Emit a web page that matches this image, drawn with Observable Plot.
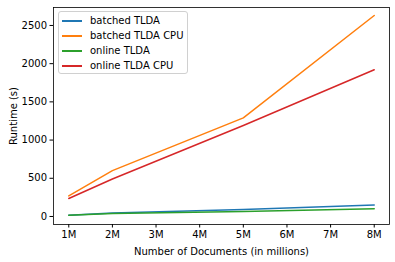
<!DOCTYPE html>
<html><head><meta charset="utf-8">
<script src="https://cdn.jsdelivr.net/npm/d3@7"></script>
<script src="https://cdn.jsdelivr.net/npm/@observablehq/plot@0.6"></script>
<style>
body{margin:0;background:#fff;font-family:"DejaVu Sans",sans-serif;}
#wrap{position:relative;width:395px;height:262px;}
#legend{position:absolute;left:58px;top:11px;width:130px;height:63px;border:1px solid #d0d0d0;border-radius:3px;background:rgba(255,255,255,0.8);font-size:10px;color:#000;box-sizing:border-box;}
.row{position:absolute;left:0;height:14px;}
.sw{position:absolute;left:3px;top:6px;width:20px;height:2px;}
.lb{position:absolute;left:31px;top:0;white-space:nowrap;line-height:14px;}
</style></head>
<body><div id="wrap"></div>
<script>
const docs = [1, 2, 5, 8];
const tickLabels = ["1M","2M","3M","4M","5M","6M","7M","8M"];
const seriesNames = ["batched TLDA", "batched TLDA CPU", "online TLDA", "online TLDA CPU"];
const batched = [15, 45, 90, 150];
const batchedCPU = [270, 600, 1290, 2630];
const online = [15, 40, 65, 100];
const onlineCPU = [235, 490, 1190, 1920];
const colors = ["#1f77b4", "#ff7f0e", "#2ca02c", "#d62728"];

const allSeries = [batched, batchedCPU, online, onlineCPU];
const rows = [];
allSeries.forEach((s, i) => s.forEach((v, j) => rows.push({series: seriesNames[i], x: docs[j], y: v})));

const chart = Plot.plot({
  width: 395, height: 262,
  marginLeft: 53, marginRight: 6, marginTop: 7, marginBottom: 38,
  style: {fontFamily: "DejaVu Sans", fontSize: "10px", color: "#000", background: "#fff", overflow: "visible"},
  x: {domain: [0.65, 8.35]},
  y: {domain: [-105, 2735]},
  color: {domain: seriesNames, range: colors},
  marks: [
    Plot.line(rows, {x: "x", y: "y", z: "series", stroke: "series", strokeWidth: 1.5}),
    Plot.frame({stroke: "#000", strokeWidth: 0.8}),
    Plot.axisX([1,2,3,4,5,6,7,8], {tickSize: 3.5, tickPadding: 3, tickFormat: (d) => tickLabels[d-1], fontSize: 10,
      label: "Number of Documents (in millions)", labelAnchor: "center", labelOffset: 30, labelArrow: "none"}),
    Plot.axisY([0,500,1000,1500,2000,2500], {tickSize: 3.5, tickPadding: 3, fontSize: 10, tickFormat: (d) => String(d),
      label: "Runtime (s)", labelAnchor: "center", labelOffset: 44, labelArrow: "none"})
  ]
});
const wrap = document.getElementById("wrap");
wrap.appendChild(chart);
const leg = document.createElement("div");
leg.id = "legend";
seriesNames.forEach((n, i) => {
  const r = document.createElement("div");
  r.className = "row";
  r.style.top = (2 + i * 15) + "px";
  r.innerHTML = `<span class="sw" style="background:${colors[i]}"></span><span class="lb">${n}</span>`;
  leg.appendChild(r);
});
wrap.appendChild(leg);
</script></body></html>
